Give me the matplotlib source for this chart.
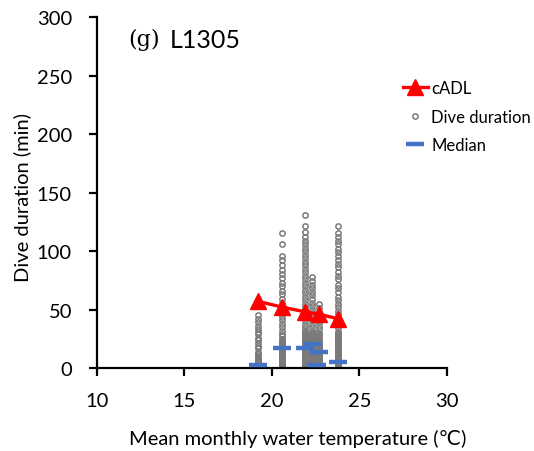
import matplotlib.pyplot as plt

plt.rcParams['font.family'] = ['Lato', 'DejaVu Sans']

# Mean monthly water temperature for each month (deg C)
month_temp = [19.2, 20.6, 21.9, 22.3, 22.55, 22.7, 23.8]

# Dive durations (min) recorded in each month
dives = [
    [45, 42, 39, 36, 33, 31, 29, 26, 24, 21, 19, 17, 14, 12, 10, 9, 8, 7, 6, 5, 4, 3, 2, 1, 0],
    [115, 106, 96, 92, 88, 84, 80, 77, 73, 70, 66, 63, 59, 56, 53, 50, 47, 44, 41, 38,
     35, 32, 29, 27, 25, 24, 23, 22, 21, 20, 19, 18, 17, 16, 15, 14, 13, 12, 11, 10,
     9, 8, 7, 6, 5, 4, 3, 2, 1, 0],
    [131, 121, 116, 112, 109, 106, 103, 100, 97, 94, 91, 88, 85, 82, 79, 76, 73, 70, 67, 64,
     61, 58, 55, 52, 49, 46, 43, 40, 37, 34, 32, 31, 30, 29, 28, 27, 26, 25, 24, 23, 22,
     21, 20, 19, 18, 17, 16, 15, 14, 13, 12, 11, 10, 9, 8, 7, 6, 5, 4, 3, 2, 1, 0],
    [78, 74, 71, 68, 65, 62, 59, 56, 53, 50, 47, 44, 41, 38, 35, 32, 30, 29, 28, 27, 26,
     25, 24, 23, 22, 21, 20, 19, 18, 17, 16, 15, 14, 13, 12, 11, 10, 9, 8, 7, 6, 5, 4,
     3, 2, 1, 0],
    [30, 27, 24, 22, 20, 18, 16, 15, 14, 13, 12, 11, 10, 9, 8, 7, 6, 5, 4, 3, 2, 1, 0],
    [55, 51, 47, 43, 39, 36, 33, 30, 28, 26, 24, 23, 22, 21, 20, 19, 18, 17, 16, 15, 14,
     13, 12, 11, 10, 9, 8, 7, 6, 5, 4, 3, 2, 1, 0],
    [121, 115, 112, 109, 106, 102, 99, 96, 92, 89, 86, 82, 79, 76, 71, 68, 65, 61, 58, 55,
     52, 49, 46, 43, 40, 37, 34, 31, 30, 29, 28, 27, 26, 25, 24, 23, 22, 21, 20, 19, 18,
     17, 16, 15, 14, 13, 12, 11, 10, 9, 8, 7, 6, 5, 4, 3, 2, 1, 0],
]

# Median dive duration per month (min)
medians = [3, 17, 17, 20.5, 3, 13.5, 5.5]

# Calculated aerobic dive limit
cadl_temp = [19.2, 20.6, 21.9, 22.7, 23.8]
cadl = [57, 52, 48, 46, 42]

fig = plt.figure(figsize=(5.34, 4.52), dpi=100)
ax = fig.add_axes([0.1816, 0.1836, 0.6554, 0.7764])

dot_style = dict(linestyle='none', marker='o', ms=3.8, mew=1.1, mfc='none', mec='#7a7a7a')
for t, d in zip(month_temp, dives):
    ax.plot([t] * len(d), d, label='_nolegend_', **dot_style)
ax.plot([], [], label='Dive duration', **dot_style)

ax.plot(month_temp, medians, linestyle='none', marker='_', ms=12.5, mew=3.2,
        color='#4472c4', label='Median', zorder=4)

ax.plot(cadl_temp, cadl, color='#ff0000', lw=2.4, marker='^', ms=11,
        label='cADL', zorder=5)

ax.set_xlim(10, 30)
ax.set_ylim(0, 300)
ax.set_xticks([10, 15, 20, 25, 30])
ax.set_yticks([0, 50, 100, 150, 200, 250, 300])
ax.spines['top'].set_visible(False)
ax.spines['right'].set_visible(False)
ax.spines['left'].set_linewidth(1.6)
ax.spines['bottom'].set_linewidth(1.6)
ax.tick_params(direction='out', length=6, width=1.6, labelsize=14.5)
ax.tick_params(axis='x', pad=11)
ax.tick_params(axis='y', pad=12)

ax.set_xlabel('Mean monthly water temperature (\u2103)', fontsize=14.5)
ax.xaxis.set_label_coords(0.574, -0.175)
ax.set_ylabel('Dive duration (min)', fontsize=14.5)
ax.yaxis.set_label_coords(-0.189, 0.49)

ax.text(0.09, 0.937, '(g)', transform=ax.transAxes, fontsize=16,
        family='DejaVu Serif', va='center', ha='left')
ax.text(0.207, 0.937, 'L1305', transform=ax.transAxes, fontsize=18,
        va='center', ha='left')

handles, labels = ax.get_legend_handles_labels()
order = [labels.index('cADL'), labels.index('Dive duration'), labels.index('Median')]
ax.legend([handles[i] for i in order], [labels[i] for i in order],
          loc='upper left', bbox_to_anchor=(0.742, 0.835), bbox_transform=fig.transFigure,
          frameon=False, fontsize=12, handlelength=1.5, handletextpad=0.2,
          labelspacing=0.75, borderaxespad=0)

fig.savefig('out.png', dpi=100)
